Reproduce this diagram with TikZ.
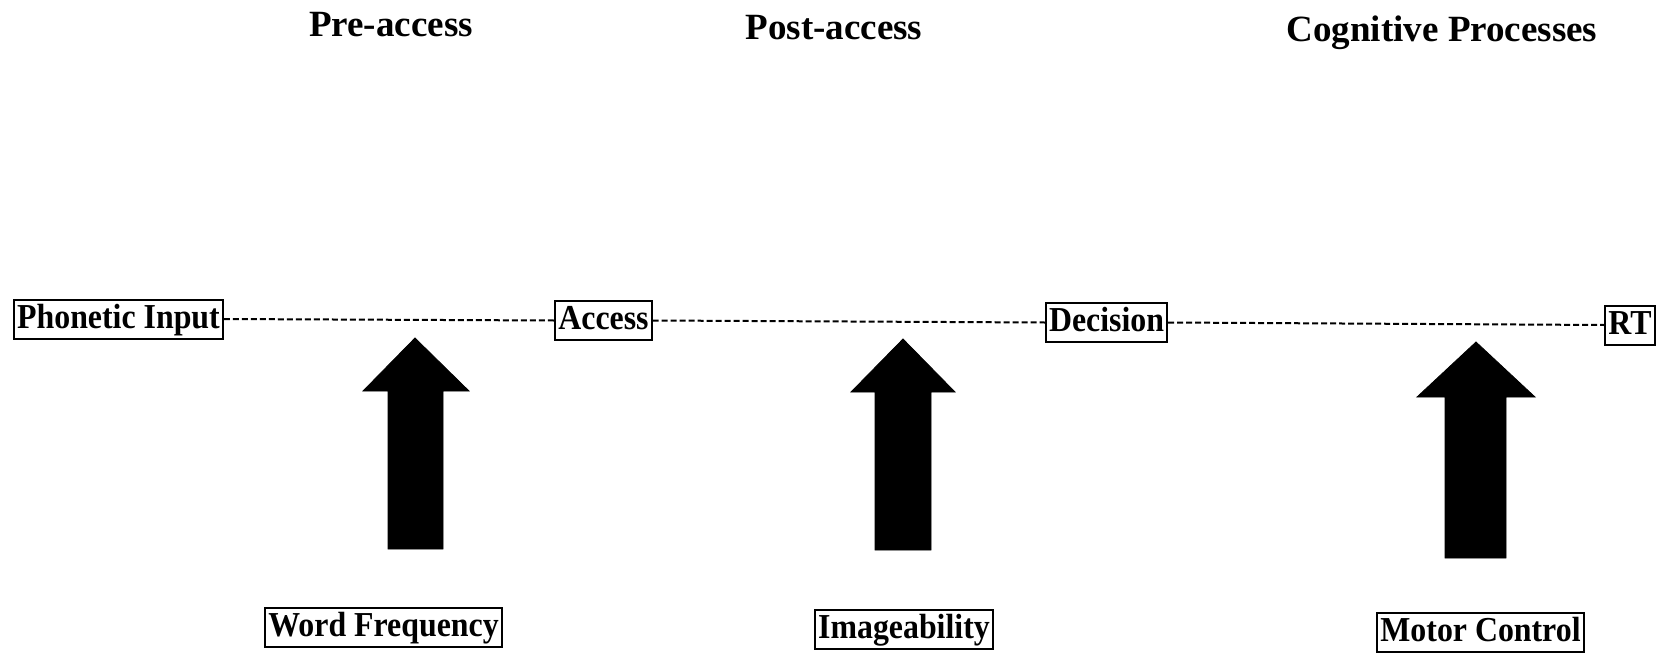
\documentclass[tikz,border=0pt]{standalone}
\usepackage{fontspec}
\setmainfont{Liberation Serif}
\newfontfamily\boxfont[FakeStretch=0.91]{Liberation Serif}
\begin{document}
\begin{tikzpicture}[x=1pt,y=-1pt,
  title/.style={font=\fontsize{37}{40}\selectfont\bfseries, inner sep=0pt},
  stagebox/.style={draw, line width=2pt, font=\boxfont\fontsize{35}{38}\selectfont\bfseries,
    inner xsep=3pt, inner ysep=0pt, minimum height=39pt, text height=25pt, text depth=7pt},
  link/.style={line width=2pt, dash pattern=on 6pt off 3pt},
  bigarrow/.style={fill=black, draw=black, line width=0.8pt}]
\useasboundingbox (0,0) rectangle (1666,656);
% titles
\node[title] (t1) at (391,25) {Pre-access};
\node[title] (t2) at (834,28) {Post-access};
\node[title] (t3) at (1442,33) {Cognitive Processes};
% stage boxes
\node[stagebox] (pi) at (118.5,319) {Phonetic Input};
\node[stagebox] (ac) at (603.5,320.5) {Access};
\node[stagebox] (de) at (1106.5,322.5) {Decision};
\node[stagebox] (rt) at (1630,325) {RT};
% dashed connectors
\draw[link] (pi.east) -- (ac.west);
\draw[link] (ac.east) -- (de.west);
\draw[link] (de.east) -- (rt.west);
% factor boxes
\node[stagebox] (wf) at (383.5,627) {Word Frequency};
\node[stagebox] (im) at (904,629.5) {Imageability};
\node[stagebox] (mc) at (1480.5,632.5) {Motor Control};
% big arrows
\fill[bigarrow] (415,338) -- (469,391) -- (443,391) -- (443,549) -- (388,549) -- (388,391) -- (363,391) -- cycle;
\fill[bigarrow] (903,339) -- (955,392) -- (931,392) -- (931,550) -- (875,550) -- (875,392) -- (851,392) -- cycle;
\fill[bigarrow] (1476,342) -- (1535,397) -- (1506,397) -- (1506,558) -- (1445,558) -- (1445,397) -- (1417,397) -- cycle;
\end{tikzpicture}
\end{document}
